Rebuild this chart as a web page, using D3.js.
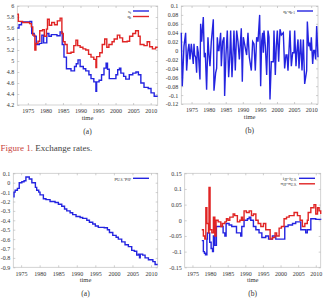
<!DOCTYPE html>
<html><head><meta charset="utf-8">
<script src="https://cdn.jsdelivr.net/npm/d3@7"></script>
<style>
html,body{margin:0;padding:0;background:#fff;}
svg{display:block;font-family:"Liberation Serif","Times New Roman",serif;}
</style></head>
<body>
<script>
// ---------- DATA ----------
// Panel (a) top: s_t and q_t  [time, value]
const sSeries = [[1972,5.6],[1972.5,5.66],[1973.2,5.71],[1975.6,5.72],[1976.1,5.5],[1976.8,5.45],[1977.4,5.3],[1978.3,5.32],[1979,5.47],[1979.5,5.33],[1980.4,5.5],[1981,5.45],[1981.7,5.48],[1983.3,5.46],[1984.2,5.53],[1984.8,5.3],[1985.3,5.07],[1986,4.86],[1987.3,4.82],[1988.3,4.9],[1988.8,4.95],[1989.3,5.02],[1989.9,4.9],[1990.8,4.86],[1991.5,4.82],[1992.4,4.75],[1993,4.68],[1993.8,4.62],[1994.4,4.45],[1994.6,4.62],[1995.3,4.65],[1996,4.75],[1996.7,4.87],[1997.3,4.96],[1997.7,4.85],[1998.2,4.68],[1999.2,4.68],[2000.1,4.75],[2000.6,4.84],[2001.1,4.87],[2001.5,4.78],[2002.3,4.72],[2002.9,4.67],[2003.9,4.75],[2004.9,4.78],[2005.8,4.8],[2006.5,4.75],[2007.2,4.6],[2008.1,4.52],[2009.3,4.5],[2010.1,4.42],[2011,4.36],[2012,4.36]];
const qSeries = [[1972,5.85],[1972.3,5.72],[1973.5,5.7],[1975.5,5.68],[1976,5.62],[1976.4,5.47],[1977,5.2],[1977.3,5.32],[1977.9,5.36],[1978.4,5.55],[1979.2,5.57],[1979.7,5.45],[1980.3,5.58],[1980.6,5.76],[1981.1,5.65],[1981.8,5.7],[1982.6,5.66],[1983.4,5.73],[1984.2,5.78],[1984.7,5.5],[1985.1,5.35],[1985.6,5.3],[1986.2,5.14],[1987.3,5.16],[1988.1,5.28],[1988.7,5.38],[1989.2,5.28],[1989.9,5.25],[1990.7,5.22],[1991.5,5.2],[1992.3,5.12],[1993,5.07],[1993.8,5.03],[1994.4,4.88],[1994.6,5.08],[1995.5,5.15],[1996.2,5.3],[1996.9,5.4],[1997.5,5.25],[1998.1,5.3],[1999,5.35],[1999.6,5.4],[2000.5,5.47],[2001.2,5.42],[2002,5.35],[2003.3,5.36],[2004,5.45],[2004.9,5.5],[2005.7,5.55],[2006.5,5.45],[2007,5.3],[2008.1,5.28],[2009,5.35],[2009.7,5.26],[2010.5,5.22],[2011.4,5.25],[2012,5.25]];
// Panel (b) top: q_t - q_{t-1}
const dqTime = [1972.0,1972.29,1972.78,1973.27,1973.56,1973.95,1974.24,1974.54,1974.93,1975.51,1975.71,1975.9,1976.2,1976.49,1976.68,1976.98,1977.46,1977.66,1977.95,1978.44,1978.73,1979.02,1979.41,1979.8,1980.1,1980.39,1980.78,1981.37,1981.56,1982.05,1982.34,1982.54,1982.83,1983.02,1983.51,1983.71,1984.1,1984.49,1984.68,1985.07,1985.46,1985.85,1986.15,1986.44,1986.83,1987.12,1987.41,1987.8,1988.0,1988.2,1988.59,1988.98,1989.56,1989.85,1990.15,1990.63,1991.12,1991.51,1991.9,1992.49,1992.88,1993.27,1993.66,1994.05,1994.44,1994.93,1995.22,1995.51,1995.8,1996.0,1996.2,1996.59,1996.98,1997.37,1997.66,1997.95,1998.34,1998.93,1999.12,1999.51,1999.8,2000.1,2000.49,2000.88,2001.27,2001.85,2002.24,2002.63,2002.93,2003.22,2003.8,2004.2,2004.59,2004.98,2005.17,2005.56,2005.85,2006.15,2006.44,2006.93,2007.32,2007.71,2008.1,2008.68,2008.88,2009.27,2009.56,2009.85,2010.05,2010.44,2010.73,2011.02,2011.32,2011.61,2012.0];
const dqValue = [0.04,-0.08,0.01,0.04,-0.045,0.0,0.015,-0.02,0.015,-0.03,0.015,-0.01,-0.015,-0.05,0.01,-0.005,-0.065,0.06,0.02,0.075,-0.015,-0.005,-0.088,0.03,-0.01,-0.035,0.02,0.07,-0.09,-0.05,-0.04,0.03,0.0,0.0,0.04,-0.035,0.02,0.03,-0.102,-0.01,0.045,-0.06,-0.02,0.045,-0.06,-0.01,0.045,-0.045,0.0,0.045,0.02,-0.02,0.05,-0.07,0.03,0.01,-0.01,0.04,-0.015,-0.045,0.02,0.015,-0.045,0.03,0.02,0.08,-0.08,0.02,0.04,-0.005,0.045,0.01,-0.055,0.045,0.03,-0.11,-0.025,-0.025,0.045,-0.055,0.01,0.045,-0.025,0.048,0.035,0.04,-0.04,-0.01,-0.01,-0.045,0.045,-0.035,-0.005,-0.005,0.045,-0.035,0.0,0.025,-0.04,0.025,-0.045,0.025,-0.075,-0.045,0.065,0.01,0.015,0.0,0.03,-0.03,0.0,0.0,-0.02,0.055,-0.015];
// Panel (a) bottom: p_US - p_JP
const pSeries = [[1972.9,-0.15],[1973.1,-0.1],[1973.4,-0.08],[1974.0,-0.06],[1974.5,0.0],[1975.2,0.01],[1975.8,0.02],[1976.3,0.06],[1977.2,0.04],[1977.9,0.0],[1978.85,-0.05],[1979.2,-0.08],[1979.75,-0.1],[1980.1,-0.13],[1981.0,-0.17],[1981.7,-0.18],[1982.8,-0.2],[1984.15,-0.21],[1985.05,-0.23],[1985.95,-0.25],[1986.7,-0.28],[1987.3,-0.3],[1988.2,-0.32],[1988.9,-0.34],[1989.8,-0.36],[1990.9,-0.37],[1991.6,-0.38],[1992.7,-0.4],[1993.4,-0.42],[1994.3,-0.44],[1995.0,-0.46],[1995.8,-0.475],[1997.4,-0.48],[1998.25,-0.5],[1998.8,-0.53],[1999.7,-0.56],[2000.6,-0.58],[2001.2,-0.6],[2002.1,-0.63],[2003.0,-0.66],[2003.9,-0.68],[2004.8,-0.72],[2005.5,-0.73],[2006.15,-0.77],[2006.6,-0.76],[2006.9,-0.8],[2007.1,-0.76],[2007.75,-0.77],[2008.4,-0.8],[2009.3,-0.82],[2010.5,-0.84],[2011.1,-0.87],[2011.8,-0.87]];
// Panel (b) bottom: i_JP - i_US and pi_JP - pi_US
const iSeries = [[1977.65,-0.065],[1978.1,-0.1],[1978.4,-0.105],[1978.7,-0.11],[1979.1,-0.06],[1979.25,-0.04],[1979.9,-0.07],[1980.3,-0.09],[1980.7,-0.1],[1980.95,-0.05],[1981.35,-0.08],[1981.8,-0.02],[1983.05,-0.02],[1983.7,-0.04],[1984.2,-0.05],[1984.55,-0.01],[1985.4,-0.015],[1986.15,-0.02],[1986.8,-0.02],[1987.5,-0.04],[1988.7,-0.05],[1989.0,-0.02],[1989.65,0.0],[1990.6,0.005],[1991.1,0.01],[1991.55,0.0],[1992.3,-0.02],[1993.0,-0.03],[1993.9,-0.04],[1994.7,-0.055],[1995.8,-0.05],[1996.6,-0.06],[1997.7,-0.05],[1998.65,-0.06],[2000.07,-0.06],[2001.2,-0.02],[2002.15,-0.015],[2003.4,-0.01],[2004.3,-0.005],[2005.75,-0.03],[2007.15,-0.04],[2007.6,-0.03],[2008.6,0.005],[2010.0,0.003],[2011.4,0.002]];
const piSeries = [[1977.65,-0.03],[1978.1,-0.05],[1978.5,-0.06],[1978.8,0.04],[1979.1,-0.01],[1979.55,-0.04],[1979.7,0.105],[1980.0,-0.03],[1980.5,-0.04],[1980.95,0.01],[1981.35,-0.05],[1981.7,0.0],[1982.3,-0.005],[1983.05,-0.02],[1983.5,-0.01],[1984.2,-0.005],[1984.65,0.005],[1985.1,0.0],[1985.6,0.01],[1986.55,0.02],[1987.0,0.015],[1987.75,-0.005],[1988.45,0.0],[1988.9,0.01],[1989.2,0.0],[1989.65,0.03],[1990.3,0.025],[1991.1,0.03],[1991.75,0.015],[1992.3,0.02],[1993.0,0.0],[1993.65,-0.01],[1994.4,-0.02],[1995.15,-0.01],[1995.8,-0.03],[1997.05,-0.06],[1997.7,-0.055],[1998.45,-0.04],[1998.9,-0.05],[1999.6,-0.025],[2000.25,-0.02],[2001.0,0.005],[2001.7,0.01],[2002.45,0.015],[2003.85,0.025],[2004.8,0.015],[2005.55,0.0],[2006.2,-0.02],[2006.9,-0.01],[2007.6,0.0],[2007.85,0.025],[2008.6,0.04],[2009.5,0.05],[2010.0,0.02],[2010.5,0.04],[2010.95,0.03],[2011.4,0.02]];
// Tick labels
const xTicks = [1975,1980,1985,1990,1995,2000,2005,2010];
const yTicksA = [6,5.8,5.6,5.4,5.2,5,4.8,4.6,4.4,4.2];
const yTicksB = [0.1,0.08,0.06,0.04,0.02,0,-0.02,-0.04,-0.06,-0.08,-0.1,-0.12];
const yTicksC = [0.1,0,-0.1,-0.2,-0.3,-0.4,-0.5,-0.6,-0.7,-0.8,-0.9];
const yTicksD = [0.15,0.1,0.05,0,-0.05,-0.1,-0.15];

// ---------- DRAW ----------
const W = 329, H = 302;
const BLUE = "#2424e0", RED = "#e02424";
const svg = d3.select("body").append("svg").attr("width", W).attr("height", H);
const fmt = d => String(+d.toFixed(3));

function panel(o) {
  const x = d3.scaleLinear().domain(o.xd).range([o.l, o.r]);
  const y = d3.scaleLinear().domain(o.yd).range([o.b, o.t]);
  const g = svg.append("g");
  g.append("rect").attr("x", o.l).attr("y", o.t).attr("width", o.r - o.l).attr("height", o.b - o.t)
    .attr("fill", "none").attr("stroke", "#c8c8c8").attr("stroke-width", 0.8);
  const ax = (gen, tr) => g.append("g").attr("transform", tr).call(gen)
    .call(s => s.select(".domain").remove())
    .call(s => s.selectAll(".tick line").attr("stroke", "#b0b0b0").attr("stroke-width", 0.6))
    .call(s => s.selectAll("text").attr("fill", "#333").attr("font-size", 6).attr("font-family", "Liberation Serif"));
  ax(d3.axisBottom(x).tickValues(xTicks).tickFormat(d3.format("d")).tickSizeInner(-2).tickSizeOuter(0).tickPadding(4), `translate(0,${o.b})`);
  ax(d3.axisLeft(y).tickValues(o.yt).tickFormat(fmt).tickSizeInner(-2).tickSizeOuter(0).tickPadding(3), `translate(${o.l},0)`);
  ax(d3.axisTop(x).tickValues(xTicks).tickFormat("").tickSizeInner(-2).tickSizeOuter(0), `translate(0,${o.t})`);
  ax(d3.axisRight(y).tickValues(o.yt).tickFormat("").tickSizeInner(-2).tickSizeOuter(0), `translate(${o.r},0)`);
  o.series.forEach(s => {
    const line = d3.line().x(d => x(d[0])).y(d => y(d[1])).curve(s.step ? d3.curveStepAfter : d3.curveLinear);
    g.append("path").datum(s.data).attr("d", line).attr("fill", "none")
      .attr("stroke", s.color).attr("stroke-width", 1.4).attr("stroke-linejoin", "miter");
  });
  o.series.forEach((s, i) => {
    const ly = o.t + 5 + i * 5.5;
    const tx = g.append("text").attr("x", o.legX).attr("y", ly + 1.6).attr("text-anchor", "end")
      .attr("font-size", 5).attr("fill", "#333");
    s.label.forEach(p => {
      const ts = tx.append("tspan").text(p[0]);
      if (p[1] === "sub") ts.attr("font-size", 3.6).attr("dy", 1);
      else if (p[1] === "up") ts.attr("dy", -1);
    });
    g.append("line").attr("x1", o.legX + 2).attr("x2", o.legX + 18).attr("y1", ly).attr("y2", ly)
      .attr("stroke", s.color).attr("stroke-width", 1.4);
  });
  g.append("text").attr("x", (o.l + o.r) / 2).attr("y", o.b + 15).attr("text-anchor", "middle")
    .attr("font-size", 6.5).attr("fill", "#333").text("time");
  g.append("text").attr("x", (o.l + o.r) / 2).attr("y", o.b + 28.5).attr("text-anchor", "middle")
    .attr("font-size", 7.5).attr("fill", "#333").text(o.tag);
}

panel({ l: 17.3, r: 157.7, t: 6, b: 105, xd: [1972, 2012], yd: [4.2, 6], yt: yTicksA, tag: "(a)", legX: 131,
  series: [
    { data: sSeries, color: BLUE, step: true, label: [["s"], ["t", "sub"]] },
    { data: qSeries, color: RED, step: true, label: [["q"], ["t", "sub"]] }
  ] });
panel({ l: 181.3, r: 318, t: 6, b: 104, xd: [1972, 2012], yd: [-0.12, 0.1], yt: yTicksB, tag: "(b)", legX: 295,
  series: [
    { data: dqTime.map((t, i) => [t, dqValue[i]]), color: BLUE, step: false,
      label: [["q"], ["t", "sub"], ["-q", "up"], ["t-1", "sub"]] }
  ] });
panel({ l: 13.3, r: 157.7, t: 173.3, b: 267.3, xd: [1972.9, 2011.8], yd: [-0.9, 0.1], yt: yTicksC, tag: "(a)", legX: 131,
  series: [
    { data: pSeries, color: BLUE, step: true, label: [["p"], ["U.S.", "sub"], ["-p", "up"], ["JP", "sub"]] }
  ] });
panel({ l: 184.7, r: 320.7, t: 173.3, b: 267.3, xd: [1972.8, 2011.4], yd: [-0.15, 0.15], yt: yTicksD, tag: "(b)", legX: 297,
  series: [
    { data: iSeries, color: BLUE, step: true, label: [["i"], ["JP", "sub"], ["-i", "up"], ["U.S.", "sub"]] },
    { data: piSeries, color: RED, step: true, label: [["π"], ["JP", "sub"], ["-π", "up"], ["U.S.", "sub"]] }
  ] });

const cap = svg.append("text").attr("x", 0.5).attr("y", 151).attr("font-size", 9);
cap.append("tspan").attr("fill", "#c8403a").text("Figure 1.");
cap.append("tspan").attr("fill", "#444").text(" Exchange rates.");
</script>
</body></html>
